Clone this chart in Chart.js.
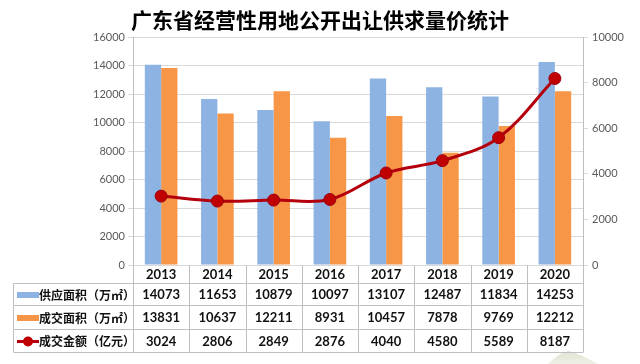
<!DOCTYPE html>
<html>
<head>
<meta charset="utf-8">
<script src="https://cdn.jsdelivr.net/npm/chart.js@4"></script>
<style>
  html, body { margin: 0; padding: 0; background: #fff; }
  #wrap { width: 640px; height: 364px; position: relative; }
</style>
</head>
<body>
<div id="wrap"><canvas id="landChart" width="640" height="364"></canvas></div>
<script>
// chart data
const years = ['2013', '2014', '2015', '2016', '2017', '2018', '2019', '2020'];
const supplyArea = [14073, 11653, 10879, 10097, 13107, 12487, 11834, 14253];
const dealArea = [13831, 10637, 12211, 8931, 10457, 7878, 9769, 12212];
const dealAmount = [3024, 2806, 2849, 2876, 4040, 4580, 5589, 8187];
const rowLabels = ['供应面积（万㎡）', '成交面积（万㎡）', '成交金额（亿元）'];

const blue = '#8DB3E2';
const orange = '#F79646';
const red = '#B3000C';
const lineGray = '#BFBFBF';
const numFont = 'Lato, "Noto Sans", sans-serif';
const cjkFont = '"Noto Sans CJK SC", sans-serif';

// draws the year row + data table under the plot, using the x scale
const dataTable = {
  id: 'dataTable',
  beforeDraw(chart) {
    const c = chart.ctx;
    // faint decoration in the bottom-right corner
    c.save();
    const g = c.createLinearGradient(0, 348, 0, 364);
    g.addColorStop(0, 'rgba(190,196,160,0.55)');
    g.addColorStop(1, 'rgba(205,210,180,0.35)');
    c.fillStyle = g;
    c.beginPath();
    c.moveTo(548, 364);
    c.quadraticCurveTo(560, 352, 569, 351);
    c.quadraticCurveTo(580, 354, 598, 364);
    c.closePath();
    c.fill();
    c.restore();
  },
  afterDraw(chart) {
    const c = chart.ctx;
    const x = chart.scales.x;
    const area = chart.chartArea;
    const left = area.left, right = area.right;
    const step = (right - left) / years.length;
    const tableLeft = 13;
    const rows = [283, 305, 329, 352];
    const series = [supplyArea, dealArea, dealAmount];

    c.save();
    c.strokeStyle = lineGray;
    c.lineWidth = 1;
    // vertical separators (from axis down to table bottom)
    for (let i = 0; i <= years.length; i++) {
      const px = Math.round(left + i * step) + 0.5;
      c.beginPath();
      c.moveTo(px, area.bottom);
      c.lineTo(px, rows[3]);
      c.stroke();
    }
    // horizontal rules
    rows.forEach(r => {
      c.beginPath();
      c.moveTo(tableLeft + 0.5, r + 0.5);
      c.lineTo(right + 0.5, r + 0.5);
      c.stroke();
    });
    c.beginPath();
    c.moveTo(tableLeft + 0.5, rows[0]);
    c.lineTo(tableLeft + 0.5, rows[3]);
    c.stroke();

    // year labels
    c.fillStyle = '#111';
    c.textAlign = 'center';
    c.textBaseline = 'middle';
    c.font = 'bold 13px ' + numFont;
    years.forEach((y, i) => {
      c.fillText(y, x.getPixelForValue(i), (area.bottom + rows[0]) / 2 + 1);
    });

    // table rows
    series.forEach((vals, r) => {
      const cy = (rows[r] + rows[r + 1]) / 2 + 1;
      c.font = 'bold 13px ' + numFont;
      c.fillStyle = '#111';
      c.textAlign = 'center';
      vals.forEach((v, i) => c.fillText(String(v), x.getPixelForValue(i), cy));

      // legend key
      if (r === 0 || r === 1) {
        c.fillStyle = r === 0 ? blue : orange;
        c.fillRect(17, cy - 3, 22, 6);
      } else {
        c.strokeStyle = red;
        c.lineWidth = 3;
        c.beginPath();
        c.moveTo(17, cy);
        c.lineTo(39, cy);
        c.stroke();
        c.fillStyle = '#C00000';
        c.beginPath();
        c.arc(28, cy, 5, 0, Math.PI * 2);
        c.fill();
      }
      c.fillStyle = '#111';
      c.textAlign = 'left';
      c.font = 'bold 12px ' + cjkFont;
      c.fillText(rowLabels[r], 39, cy);
    });
    c.restore();
  }
};

const plainTick = v => String(v);

const ctx = document.getElementById('landChart').getContext('2d');
const landChart = new Chart(ctx, {
  data: {
    labels: years,
    datasets: [{
      type: 'line',
      label: '成交金额（亿元）',
      data: dealAmount,
      yAxisID: 'y1',
      borderColor: red,
      borderWidth: 3,
      tension: 0.35,
      pointRadius: 6,
      pointBackgroundColor: '#C00000',
      pointBorderColor: '#9A0010',
      pointBorderWidth: 1,
      order: 0
    }, {
      type: 'bar',
      label: '供应面积（万㎡）',
      data: supplyArea,
      yAxisID: 'y',
      backgroundColor: blue,
      categoryPercentage: 0.58,
      barPercentage: 1,
      order: 1
    }, {
      type: 'bar',
      label: '成交面积（万㎡）',
      data: dealArea,
      yAxisID: 'y',
      backgroundColor: orange,
      categoryPercentage: 0.58,
      barPercentage: 1,
      order: 1
    }]
  },
  options: {
    responsive: false,
    animation: false,
    layout: { padding: { left: 0, right: 0, top: 0, bottom: 99 } },
    plugins: {
      legend: { display: false },
      tooltip: { enabled: false },
      title: {
        display: true,
        text: '广东省经营性用地公开出让供求量价统计',
        color: '#000',
        font: { family: cjkFont, size: 21, weight: 'bold' },
        padding: { top: 7, bottom: 5 }
      }
    },
    scales: {
      x: {
        display: false,
        offset: true
      },
      y: {
        position: 'left',
        min: 0,
        max: 16000,
        afterFit(s) { s.width = 133; },
        ticks: {
          stepSize: 2000,
          padding: 3,
          color: '#595959',
          font: { family: numFont, size: 11 },
          callback: plainTick
        },
        grid: { color: '#D9D9D9', tickLength: 5 },
        border: { color: lineGray }
      },
      y1: {
        position: 'right',
        min: 0,
        max: 10000,
        afterFit(s) { s.width = 57; },
        ticks: {
          stepSize: 2000,
          padding: 4,
          color: '#595959',
          font: { family: numFont, size: 11 },
          callback: plainTick
        },
        grid: { drawOnChartArea: false, color: '#D9D9D9', tickLength: 5 },
        border: { color: lineGray }
      }
    }
  },
  plugins: [dataTable]
});
</script>
</body>
</html>
